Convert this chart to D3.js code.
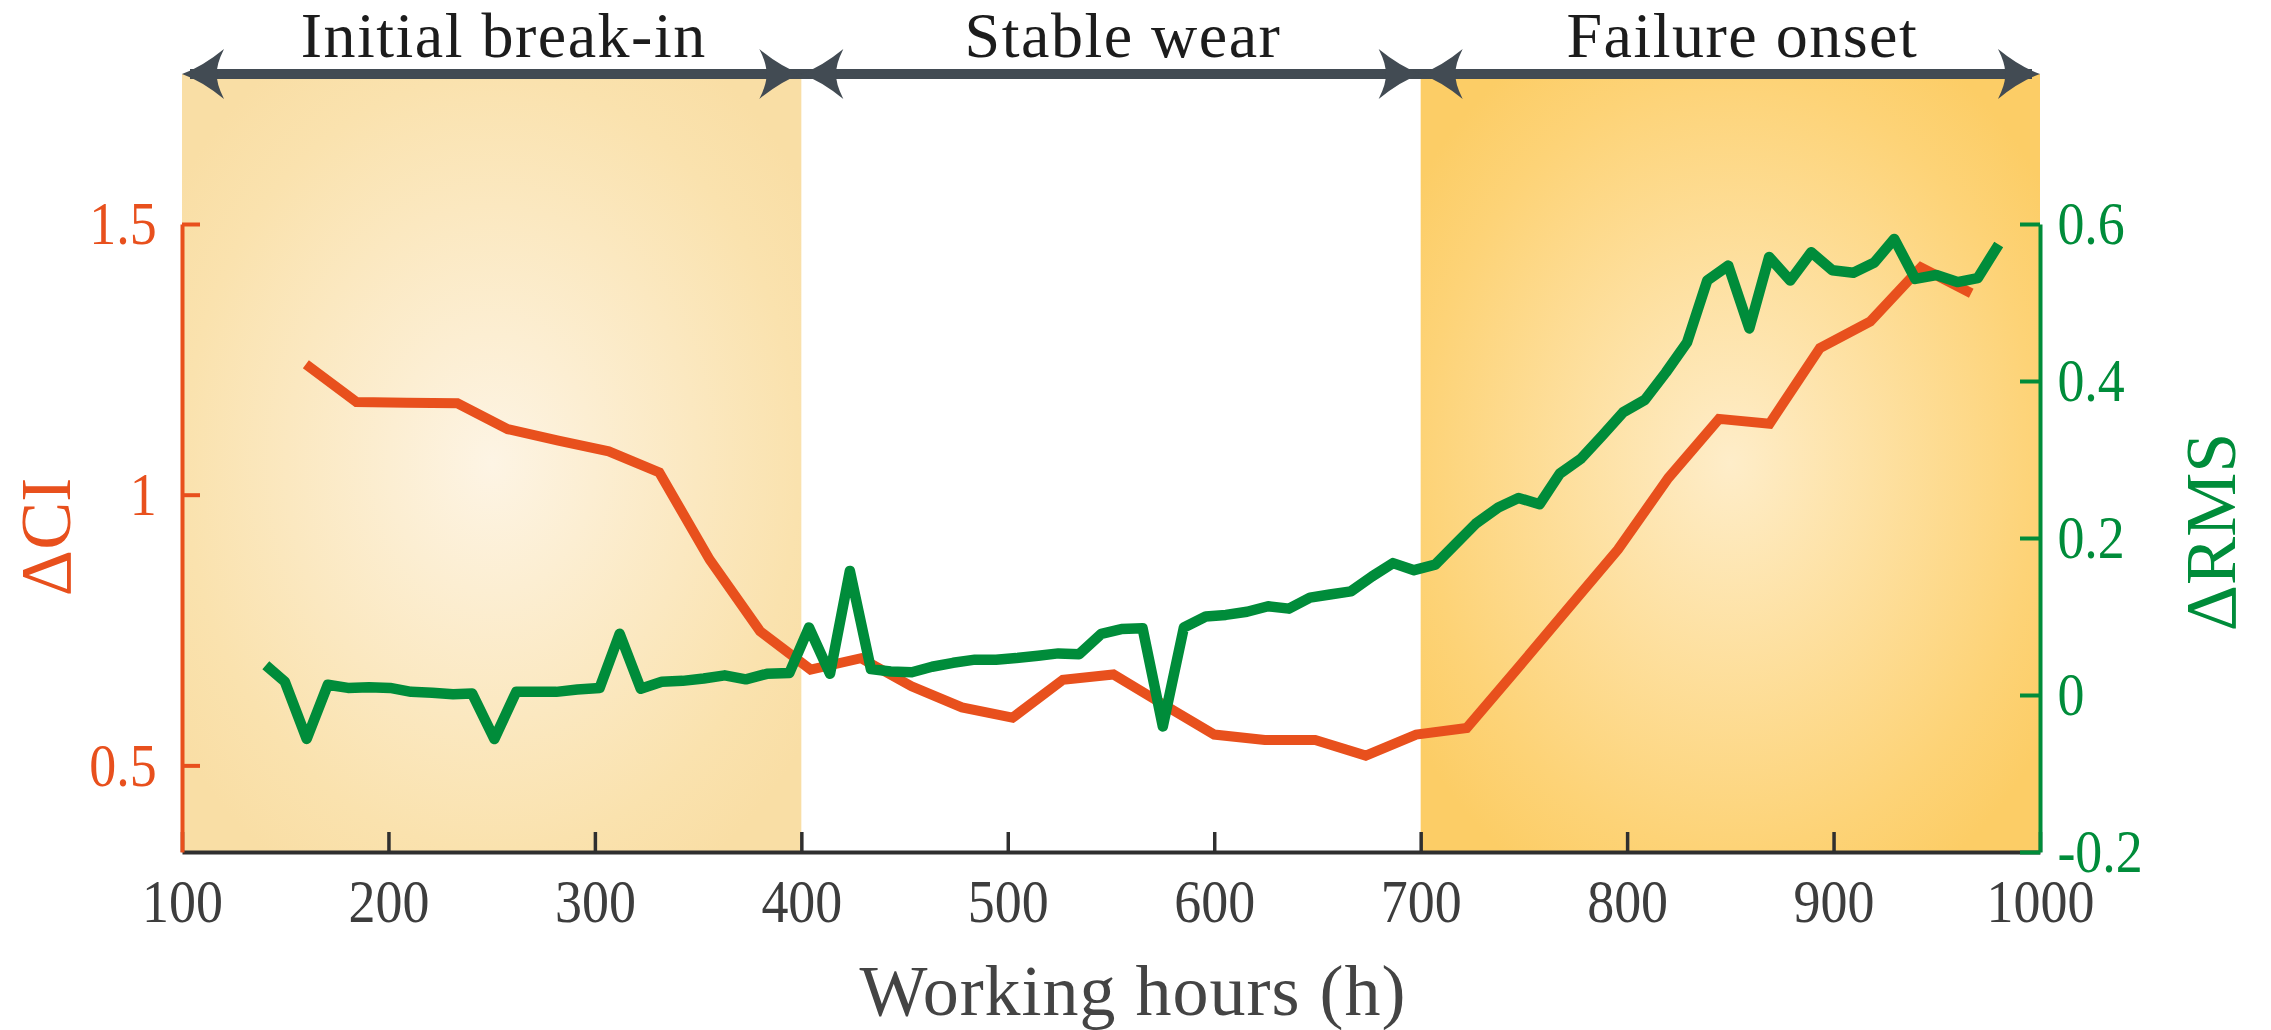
<!DOCTYPE html>
<html>
<head>
<meta charset="utf-8">
<script src="https://cdn.jsdelivr.net/npm/d3@7"></script>
<style>
  body { margin: 0; background: #fff; }
</style>
</head>
<body>
<script>
var width = 2271,
    height = 1030;

// wear phases along the time axis
var phaseNames = ['Initial break-in', 'Stable wear', 'Failure onset'];
var phaseStart = [100, 400, 700];
var phaseEnd = [400, 700, 1000];

// delta CI, left axis
var ciHours = [160, 184.5, 208.9, 233.4, 257.8, 282.3, 306.7, 331.2, 355.6, 380,
  404.5, 428.9, 453.4, 477.8, 502.3, 526.7, 551.2, 575.6, 600, 624.5,
  648.9, 673.4, 697.8, 722.3, 746.7, 771.2, 795.6, 820, 844.5, 869,
  893.4, 917.8, 942.3, 966.7];
var ciValues = [1.241, 1.171, 1.170, 1.169, 1.121, 1.100, 1.080, 1.041, 0.880, 0.748,
  0.677, 0.698, 0.646, 0.607, 0.588, 0.658, 0.668, 0.612, 0.557, 0.547,
  0.547, 0.518, 0.557, 0.569, 0.678, 0.789, 0.899, 1.031, 1.140, 1.131,
  1.271, 1.320, 1.420, 1.372];

// delta RMS, right axis
var rmsHours = [140.6, 149.8, 160.4, 170.6, 180.4, 190.6, 200.8, 211.0, 221.2, 231.3,
  240.5, 251.3, 261.9, 271.6, 281.3, 291.5, 302.3, 312.0, 322.2, 332.4,
  342.5, 352.7, 362.9, 373.1, 383.3, 394.2, 403.7, 413.9, 423.5, 433.7,
  443.3, 453.5, 463.3, 473.5, 484.1, 494.3, 504.1, 514.7, 524.5, 534.6,
  545.3, 555.0, 565.3, 575.1, 585.3, 595.9, 605.6, 615.9, 626.1, 636.2,
  646.4, 656.0, 666.2, 676.4, 686.6, 696.8, 707.0, 716.8, 726.6, 737.6,
  747.4, 757.6, 767.4, 777.6, 787.8, 798.0, 808.6, 818.8, 829.0, 838.8,
  849.0, 859.2, 868.8, 879.0, 889.2, 899.4, 909.6, 919.8, 929.4, 939.6,
  949.8, 960.0, 969.8, 980.0];
var rmsValues = [0.038, 0.017, -0.056, 0.013, 0.009, 0.010, 0.009, 0.004, 0.003, 0.001,
  0.002, -0.056, 0.004, 0.004, 0.004, 0.007, 0.009, 0.078, 0.008, 0.017,
  0.018, 0.021, 0.025, 0.020, 0.027, 0.028, 0.086, 0.027, 0.158, 0.033,
  0.030, 0.029, 0.036, 0.041, 0.045, 0.045, 0.047, 0.050, 0.053, 0.052,
  0.078, 0.084, 0.085, -0.040, 0.086, 0.100, 0.102, 0.106, 0.113, 0.110,
  0.124, 0.128, 0.132, 0.151, 0.168, 0.159, 0.166, 0.192, 0.218, 0.239,
  0.251, 0.243, 0.282, 0.301, 0.330, 0.360, 0.376, 0.411, 0.449, 0.528,
  0.547, 0.467, 0.558, 0.528, 0.564, 0.541, 0.538, 0.551, 0.581, 0.530,
  0.535, 0.526, 0.531, 0.574];

// tick labels
var xTicks = [100, 200, 300, 400, 500, 600, 700, 800, 900, 1000];
var ciTicks = [0.5, 1, 1.5];
var rmsTicks = [-0.2, 0, 0.2, 0.4, 0.6];

var plotLeft = 182,
    plotRight = 2040,
    plotTop = 224,
    plotBottom = 852,
    bandTop = 74;

var serif = '"Liberation Serif", "Times New Roman", serif';
var red = '#e8501d',
    green = '#008c3a',
    dark = '#2f2f2f',
    arrowCol = '#424b53',
    squeeze = 'scale(0.87,1)';   // tick digits in the figure are narrow

var svg = d3.select('body').append('svg')
    .attr('width', width)
    .attr('height', height);

var x = d3.scaleLinear().domain([100, 1000]).range([plotLeft, plotRight]);
var yCI = d3.scaleLinear().domain([0.34, 1.5]).range([plotBottom, plotTop]);
var yRMS = d3.scaleLinear().domain([-0.2, 0.6]).range([plotBottom, plotTop]);

//GRADIENTS FOR THE SHADED PHASES
var defs = svg.append('defs');
var addGlow = function(id, stops){
  var g = defs.append('radialGradient')
      .attr('id', id)
      .attr('cx', 0.5).attr('cy', 0.5).attr('r', 0.62);
  stops.forEach(function(s){
    g.append('stop').attr('offset', s[0]).attr('stop-color', s[1]);
  });
};
addGlow('glowA', [[0, '#fdf4e4'], [0.8, '#fae2ae'], [1, '#f9dea5']]);
addGlow('glowC', [[0, '#feedc9'], [0.8, '#fdd377'], [1, '#fccd66']]);
var phaseFill = ['url(#glowA)', 'none', 'url(#glowC)'];

svg.selectAll('rect.phase')
    .data(d3.range(phaseNames.length))
  .enter().append('rect')
    .attr('class', 'phase')
    .attr('x', function(i){ return x(phaseStart[i]); })
    .attr('y', bandTop)
    .attr('width', function(i){ return x(phaseEnd[i]) - x(phaseStart[i]); })
    .attr('height', plotBottom - bandTop)
    .attr('fill', function(i){ return phaseFill[i]; });

//BOTTOM AXIS
var xAxis = svg.append('g')
    .attr('transform', 'translate(0,' + plotBottom + ')')
    .call(d3.axisBottom(x).tickValues(xTicks).tickSizeInner(-20).tickSizeOuter(0).tickPadding(26)
      .tickFormat(function(d){ return String(d); }));
xAxis.select('.domain').attr('stroke', dark).attr('stroke-width', 4);
xAxis.selectAll('.tick line').attr('stroke', dark).attr('stroke-width', 3.5);
xAxis.selectAll('.tick text')
    .attr('fill', '#3d3d3d')
    .attr('font-size', 62)
    .attr('font-family', serif)
    .attr('transform', squeeze);

//DATA LINES
var ciLine = d3.line()
    .x(function(d){ return x(d[0]); })
    .y(function(d){ return yCI(d[1]); });
var rmsLine = d3.line()
    .x(function(d){ return x(d[0]); })
    .y(function(d){ return yRMS(d[1]); });

svg.append('path')
    .datum(d3.zip(ciHours, ciValues))
    .attr('d', ciLine)
    .attr('fill', 'none')
    .attr('stroke', red)
    .attr('stroke-width', 10)
    .attr('stroke-linejoin', 'miter');

svg.append('path')
    .datum(d3.zip(rmsHours, rmsValues))
    .attr('d', rmsLine)
    .attr('fill', 'none')
    .attr('stroke', green)
    .attr('stroke-width', 10.5)
    .attr('stroke-linejoin', 'round');

//SIDE AXES
var ciAxis = svg.append('g')
    .attr('transform', 'translate(' + plotLeft + ',0)')
    .call(d3.axisLeft(yCI).tickValues(ciTicks).tickSizeInner(-18).tickSizeOuter(0).tickPadding(29)
      .tickFormat(function(d){ return String(d); }));
ciAxis.select('.domain').attr('stroke', red).attr('stroke-width', 4);
ciAxis.selectAll('.tick line').attr('stroke', red).attr('stroke-width', 4);
ciAxis.selectAll('.tick text')
    .attr('fill', red)
    .attr('font-size', 62)
    .attr('font-family', serif)
    .attr('transform', squeeze);

var rmsAxis = svg.append('g')
    .attr('transform', 'translate(' + plotRight + ',0)')
    .call(d3.axisRight(yRMS).tickValues(rmsTicks).tickSizeInner(-20).tickSizeOuter(0).tickPadding(20)
      .tickFormat(function(d){ return String(d); }));
rmsAxis.select('.domain').attr('stroke', green).attr('stroke-width', 4);
rmsAxis.selectAll('.tick line').attr('stroke', green).attr('stroke-width', 4);
rmsAxis.selectAll('.tick text')
    .attr('fill', green)
    .attr('font-size', 62)
    .attr('font-family', serif)
    .attr('transform', squeeze);

//AXIS TITLES
svg.append('text')
    .attr('x', 1133)
    .attr('y', 1015)
    .attr('text-anchor', 'middle')
    .attr('font-family', serif)
    .attr('font-size', 72)
    .attr('letter-spacing', 1)
    .attr('fill', '#444')
    .text('Working hours (h)');

svg.append('text')
    .attr('transform', 'translate(70,537) rotate(-90)')
    .attr('text-anchor', 'middle')
    .attr('font-family', serif)
    .attr('font-size', 72)
    .attr('fill', red)
    .text('\u0394CI');

svg.append('text')
    .attr('transform', 'translate(2235,532) rotate(-90)')
    .attr('text-anchor', 'middle')
    .attr('font-family', serif)
    .attr('font-size', 72)
    .attr('fill', green)
    .text('\u0394RMS');

//PHASE ARROWS
svg.append('line')
    .attr('x1', x(100) + 8)
    .attr('x2', x(1000) - 8)
    .attr('y1', bandTop)
    .attr('y2', bandTop)
    .attr('stroke', arrowCol)
    .attr('stroke-width', 10);

// head drawn pointing left, flipped for the right hand end
var headPath = 'M0,0 Q20,-7 42,-25 Q34,-9 35,0 Q34,9 42,25 Q20,7 0,0 Z';
var heads = [];
phaseStart.forEach(function(s, i){
  heads.push({at: s, dir: 1});
  heads.push({at: phaseEnd[i], dir: -1});
});
svg.selectAll('path.head')
    .data(heads)
  .enter().append('path')
    .attr('class', 'head')
    .attr('d', headPath)
    .attr('fill', arrowCol)
    .attr('transform', function(d){
      return 'translate(' + x(d.at) + ',' + bandTop + ') scale(' + d.dir + ',1)';
    });

svg.selectAll('text.phase')
    .data(phaseNames)
  .enter().append('text')
    .attr('class', 'phase')
    .attr('x', function(d, i){ return (x(phaseStart[i]) + x(phaseEnd[i])) / 2 + 12; })
    .attr('y', 57)
    .attr('text-anchor', 'middle')
    .attr('font-family', serif)
    .attr('font-size', 64)
    .attr('letter-spacing', 1.5)
    .attr('fill', '#1c1c1c')
    .text(function(d){ return d; });
</script>
</body>
</html>
